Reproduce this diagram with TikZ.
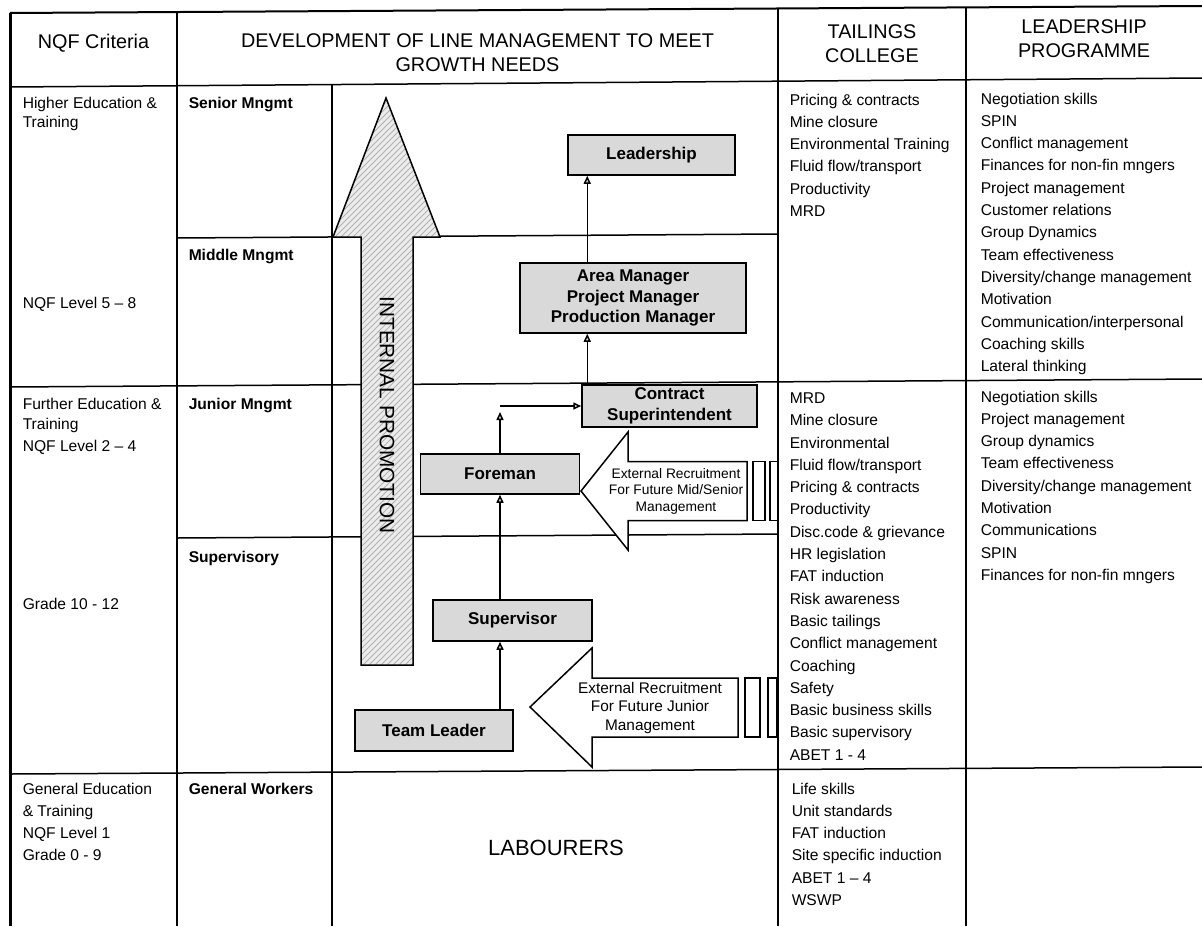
\documentclass[tikz,border=0pt]{standalone}
\usepackage{fontspec}
\setmainfont{Liberation Sans}
\usetikzlibrary{arrows.meta,patterns}

\begin{document}
\begin{tikzpicture}[x=0.5pt,y=-0.5pt,line width=0.75pt,
  >={Triangle[length=4pt,width=3.5pt,fill=gray!35]},
  hdr/.style={font=\fontsize{9.9}{11.75}\selectfont,align=center},
  tcell/.style={font=\fontsize{7.8}{11.15}\selectfont,align=left,anchor=north west,inner sep=0pt},
  rank/.style={tcell,font=\fontsize{7.8}{11.15}\selectfont\bfseries},
  postbox/.style={draw,fill=gray!30,font=\fontsize{8.5}{10.25}\selectfont\bfseries,align=center,inner sep=0pt},
  intake/.style={draw,fill=white},
  promo/.style={draw,preaction={fill=gray!15},pattern=north east lines,pattern color=gray!60}]
  \useasboundingbox (0,0) rectangle (1202,926);

  % table grid (the scanned page sits a little askew)
  \draw[line width=1.5pt] (10,926) -- (10,13);
  \draw[line width=1pt] (10,13) -- (1202,6);
  \draw (10,87) -- (1202,78);
  \draw (177,238) -- (778,234);
  \draw (10,387) -- (1202,379);
  \draw (177,538) -- (778,534);
  \draw (10,774) -- (1202,767);
  \draw (177,12) -- (177,926);
  \draw (332,85) -- (332,926);
  \draw (778,8.5) -- (778,926);
  \draw (966,7.4) -- (966,926);

  % headings
  \node[hdr] (hNqf) at (93.5,43) {NQF Criteria};
  \node[hdr] (hDev) at (477.5,52.5) {DEVELOPMENT OF LINE MANAGEMENT TO MEET\\GROWTH NEEDS};
  \node[hdr] (hTail) at (872,43.5) {TAILINGS\\COLLEGE};
  \node[hdr] (hLead) at (1084,38.5) {LEADERSHIP\\PROGRAMME};

  % NQF criteria
  \node[tcell,font=\fontsize{7.8}{9.5}\selectfont] (nqfHigher) at (22,96) {Higher Education \&\\Training};
  \node[tcell] (nqf58) at (22,296) {NQF Level 5 -- 8};
  \node[tcell,font=\fontsize{7.8}{10}\selectfont] (nqfFurther) at (22,397) {Further Education \&\\Training};
  \node[tcell] (nqf24) at (22,439) {NQF Level 2 -- 4};
  \node[tcell] (grade1012) at (22,597) {Grade 10 - 12};
  \node[tcell,font=\fontsize{7.8}{11}\selectfont] (nqfGeneral) at (22,782) {General Education\\\& Training\\NQF Level 1\\Grade 0 - 9};

  % management levels
  \node[rank] (senior) at (188,96) {Senior Mngmt};
  \node[rank] (middle) at (188,248) {Middle Mngmt};
  \node[rank] (junior) at (188,397) {Junior Mngmt};
  \node[rank] (superv) at (188,550) {Supervisory};
  \node[rank] (general) at (188,782) {General Workers};

  % college and programme
  \node[tcell] (tailHigher) at (789,93) {Pricing \& contracts\\Mine closure\\Environmental Training\\Fluid flow/transport\\Productivity\\MRD};
  \node[tcell] (leadHigher) at (980,92) {Negotiation skills\\SPIN\\Conflict management\\Finances for non-fin mngers\\Project management\\Customer relations\\Group Dynamics\\Team effectiveness\\Diversity/change management\\Motivation\\Communication/interpersonal\\Coaching skills\\Lateral thinking};
  \node[tcell] (tailFurther) at (789,392) {MRD\\Mine closure\\Environmental\\Fluid flow/transport\\Pricing \& contracts\\Productivity\\Disc.code \& grievance\\HR legislation\\FAT induction\\Risk awareness\\Basic tailings\\Conflict management\\Coaching\\Safety\\Basic business skills\\Basic supervisory\\ABET 1 - 4};
  \node[tcell] (leadFurther) at (980,390) {Negotiation skills\\Project management\\Group dynamics\\Team effectiveness\\Diversity/change management\\Motivation\\Communications\\SPIN\\Finances for non-fin mngers};
  \node[tcell] (tailGeneral) at (791,782) {Life skills\\Unit standards\\FAT induction\\Site specific induction\\ABET 1 -- 4\\WSWP};

  % internal promotion arrow
  \draw[promo] (361,665) -- (361,237) -- (333,237) -- (386,98) -- (440,237) -- (413,237) -- (413,665) -- cycle;
  \node[rotate=-90,font=\fontsize{10.4}{12.5}\selectfont] (promotion) at (387,415) {INTERNAL PROMOTION};

  % external recruitment arrows
  \draw[intake] (581,491) -- (628,432) -- (628,461.5) -- (747,461.5) -- (747,520.5) -- (628,520.5) -- (628,550) -- cycle;
  \draw[intake] (753,461.5) rectangle (765,520.5);
  \draw[intake] (770,461.5) rectangle (778,520.5);
  \node[font=\fontsize{6.9}{8.25}\selectfont,align=center] (extSenior) at (676,491) {External Recruitment\\For Future Mid/Senior\\Management};
  \draw[intake] (530,707) -- (592,648) -- (592,678) -- (738,678) -- (738,737) -- (592,737) -- (592,767) -- cycle;
  \draw[intake] (745,678) rectangle (760,737);
  \draw[intake] (768,678) rectangle (777,737);
  \node[font=\fontsize{7.7}{9.3}\selectfont,align=center] (extJunior) at (650,708) {External Recruitment\\For Future Junior\\Management};

  % posts
  \node[postbox,minimum width=83.5pt,minimum height=20pt] (ld) at (651.5,155) {Leadership};
  \node[postbox,minimum width=113pt,minimum height=35pt] (am) at (633,298) {Area Manager\\Project Manager\\Production Manager};
  \node[postbox,minimum width=87.5pt,minimum height=21pt] (cs) at (669.5,406) {Contract\\Superintendent};
  \node[postbox,minimum width=79.5pt,minimum height=20pt] (fm) at (500,474) {Foreman};
  \node[postbox,minimum width=79.5pt,minimum height=20.5pt] (sv) at (512.5,620.5) {Supervisor};
  \node[postbox,minimum width=79pt,minimum height=20.5pt] (tl) at (434,730.5) {Team Leader};

  % promotion paths
  \coordinate (spine) at ([xshift=3pt]cs.north west);
  \coordinate (bend) at (fm.north |- cs.west);
  \draw[->] (tl.north -| fm) -- (sv.south -| fm);
  \draw[->] (sv.north -| fm) -- (fm.south);
  \draw[->] (fm.north) -- ([yshift=-3pt]bend);
  \draw[->] (bend) -- (cs.west);
  \draw[->] (spine) -- (spine |- am.south);
  \draw[->] (spine |- am.north) -- (spine |- ld.south);

  \node[font=\fontsize{11}{13}\selectfont] (labour) at (556,848) {LABOURERS};
\end{tikzpicture}
\end{document}
